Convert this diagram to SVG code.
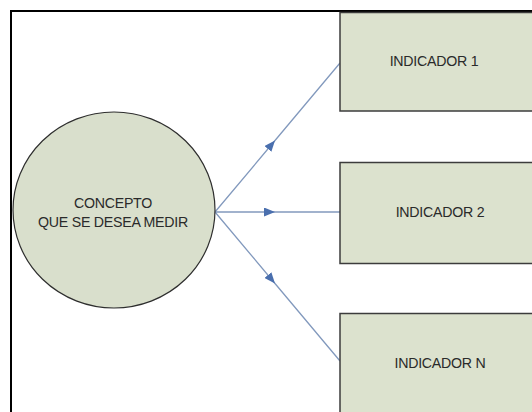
<svg xmlns="http://www.w3.org/2000/svg" width="532" height="412" viewBox="0 0 532 412">
  <style>
    .frame { fill: none; stroke: #000; stroke-width: 2; }
    .concept { fill: #d9dfcc; stroke: #2e2e2e; stroke-width: 1.2; }
    .box { fill: #dce2ce; stroke: #3c3c3c; stroke-width: 1.5; }
    .label { font-family: "Liberation Sans", Arial, sans-serif; font-size: 14.2px; fill: #2a2a2a; text-anchor: middle; letter-spacing: -0.25px; }
    .link { fill: none; stroke: #8299bd; stroke-width: 1.3; marker-mid: url(#arrow); }
  </style>
  <defs>
    <marker id="arrow" viewBox="0 0 11 9" refX="11" refY="4.5" markerWidth="11" markerHeight="9" markerUnits="userSpaceOnUse" orient="auto">
      <path d="M0,0 L11,4.5 L0,9 Z" fill="#4a6fae"/>
    </marker>
  </defs>
  <rect width="532" height="412" fill="#fff"/>

  <!-- page frame, right and bottom edges run off the sheet -->
  <rect class="frame" x="11" y="11" width="600" height="600"/>

  <!-- connectors, each with an arrowhead at its bend point -->
  <g id="connectors">
    <path class="link" d="M215,212 L275,140.5 L340,63"/>
    <path class="link" d="M215,212 L275,212 L340,212"/>
    <path class="link" d="M215,212 L275,283.5 L340,361"/>
  </g>

  <g id="concepto">
    <ellipse class="concept" cx="114" cy="210" rx="101" ry="98"/>
    <text class="label" x="113" y="208">CONCEPTO</text>
    <text class="label" x="113" y="227">QUE SE DESEA MEDIR</text>
  </g>

  <g id="indicador-1">
    <rect class="box" x="340" y="12.5" width="200" height="98.5"/>
    <text class="label" x="434" y="66">INDICADOR 1</text>
  </g>

  <g id="indicador-2">
    <rect class="box" x="340" y="162.5" width="200" height="101"/>
    <text class="label" x="440" y="217">INDICADOR 2</text>
  </g>

  <g id="indicador-n">
    <rect class="box" x="340" y="313.5" width="200" height="110"/>
    <text class="label" x="440" y="368">INDICADOR N</text>
  </g>
</svg>
